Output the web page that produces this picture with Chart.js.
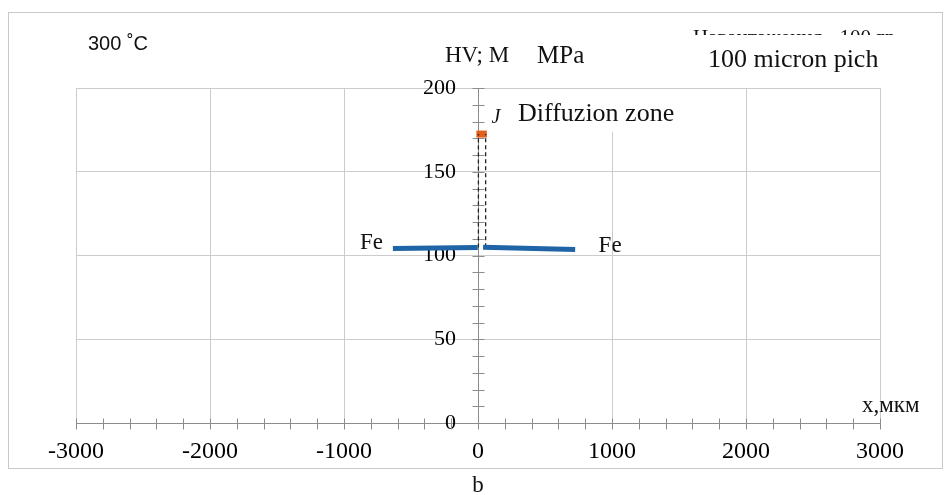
<!DOCTYPE html>
<html>
<head>
<meta charset="utf-8">
<script src="https://cdn.jsdelivr.net/npm/chart.js@4.4.1/dist/chart.umd.min.js"></script>
<style>
  html, body { margin: 0; padding: 0; background: #fff; }
  canvas { display: block; }
</style>
</head>
<body>
<canvas id="c" width="944" height="495"></canvas>
<script>
// Axis ranges and tick steps
const xRange = [-3000, 3000];
const xMajorStep = 1000;
const xMinorStep = 200;
const yRange = [0, 200];
const yMajorStep = 50;
const yMinorStep = 10;

// Microhardness profile, Fe on both sides of the joint (x, мкм ; HV, MPa)
const feLeftX = [-635, -2];
const feLeftY = [104.2, 104.8];
const feRightX = [38, 725];
const feRightY = [104.9, 103.6];

// Diffusion zone hardness and its drop lines
const zoneX = [-12, 66];
const zoneY = [172.5, 172.5];
const dropLeftX = [3, 3];
const dropLeftY = [104.8, 172.5];
const dropRightX = [57, 57];
const dropRightY = [104.9, 172.5];

const pts = (xs, ys) => xs.map((v, i) => ({ x: v, y: ys[i] }));

const AXIS = '#8c8c8c';
const GRID = '#cccccc';
const SERIF = '"Liberation Serif", "Times New Roman", serif';

// Short tick marks that cross each axis line
const crossTicks = {
  id: 'crossTicks',
  beforeDatasetsDraw(chart) {
    const { ctx } = chart;
    const sx = chart.scales.x, sy = chart.scales.y;
    const x0 = Math.round(sx.getPixelForValue(0)) + 0.5;
    const y0 = Math.round(sy.getPixelForValue(0)) + 0.5;
    ctx.save();
    ctx.strokeStyle = AXIS;
    ctx.lineWidth = 1;
    ctx.beginPath();
    sx.ticks.forEach(t => {
      const px = Math.round(sx.getPixelForValue(t.value)) + 0.5;
      ctx.moveTo(px, y0 - 5); ctx.lineTo(px, y0 + 6);
    });
    sy.ticks.forEach(t => {
      const py = Math.round(sy.getPixelForValue(t.value)) + 0.5;
      ctx.moveTo(x0 - 6, py); ctx.lineTo(x0 + 6, py);
    });
    ctx.stroke();
    ctx.restore();
  }
};

// Captions, text boxes and frame
const notes = {
  id: 'notes',
  afterDraw(chart) {
    const c = chart.ctx;
    const sx = chart.scales.x, sy = chart.scales.y;
    c.save();
    c.strokeStyle = '#c8c8c8';
    c.lineWidth = 1;
    c.strokeRect(8.5, 12.5, 934, 456);

    c.fillStyle = '#111';
    c.textBaseline = 'middle';
    c.textAlign = 'left';
    c.font = '20px "Liberation Sans", sans-serif';
    c.fillText('300 ˚C', 88, 44);

    c.textBaseline = 'alphabetic';
    c.font = '23px ' + SERIF;
    c.fillText('HV; M', 445, 62);
    c.font = '25px ' + SERIF;
    c.fillText('MPa', 537, 63);

    c.font = '21px ' + SERIF;
    c.fillText('Навантаження - 100 гр', 693, 44);
    c.fillStyle = '#fff';
    c.fillRect(688, 35, 250, 51);
    c.fillStyle = '#111';
    c.font = '26px ' + SERIF;
    c.fillText('100 micron pich', 708, 67);

    c.font = 'italic 20px ' + SERIF;
    c.fillText('J', sx.getPixelForValue(100), sy.getPixelForValue(179));
    c.fillStyle = '#fff';
    c.fillRect(503, 89, 187, 43);
    c.fillStyle = '#111';
    c.font = '26px ' + SERIF;
    c.fillText('Diffuzion zone', 518, 121);

    c.font = '23px ' + SERIF;
    c.fillText('Fe', sx.getPixelForValue(-880), sy.getPixelForValue(104.5) + 1);
    c.fillText('Fe', sx.getPixelForValue(900), sy.getPixelForValue(104.5) + 4);

    c.font = '23px ' + SERIF;
    c.fillText('x,мкм', 862, 412);

    c.textAlign = 'center';
    c.font = '23px ' + SERIF;
    c.fillText('b', 478, 492);
    c.restore();
  }
};

new Chart(document.getElementById('c'), {
  type: 'scatter',
  data: {
    datasets: [
      { data: pts(feLeftX, feLeftY), showLine: true, borderColor: '#1e64a6', borderWidth: 5, pointRadius: 0 },
      { data: pts(feRightX, feRightY), showLine: true, borderColor: '#1e64a6', borderWidth: 5, pointRadius: 0 },
      { data: pts(dropLeftX, dropLeftY), showLine: true, borderColor: '#222', borderWidth: 1.3, borderDash: [4, 3], pointRadius: 0 },
      { data: pts(dropRightX, dropRightY), showLine: true, borderColor: '#222', borderWidth: 1.3, borderDash: [4, 3], pointRadius: 0 },
      { data: pts(zoneX, zoneY), showLine: true, borderColor: '#e2601c', borderWidth: 7, pointRadius: 0 }
    ]
  },
  options: {
    responsive: false,
    animation: false,
    events: [],
    layout: { padding: { left: 76, right: 64, top: 88, bottom: 72 } },
    plugins: { legend: { display: false }, tooltip: { enabled: false } },
    scales: {
      x: {
        type: 'linear',
        position: { y: 0 },
        min: xRange[0], max: xRange[1],
        afterFit: s => { s.height = 0; },
        grid: {
          drawTicks: false,
          color: ctx => (ctx.tick && ctx.tick.value % xMajorStep === 0) ? GRID : 'rgba(0,0,0,0)'
        },
        border: { color: AXIS, width: 1 },
        ticks: {
          stepSize: xMinorStep,
          autoSkip: false,
          maxRotation: 0, minRotation: 0,
          padding: 14,
          color: '#000',
          font: { family: SERIF, size: 24 },
          callback: v => (v % xMajorStep === 0 ? String(v) : '')
        }
      },
      y: {
        type: 'linear',
        position: { x: 0 },
        min: yRange[0], max: yRange[1],
        afterFit: s => { s.width = 0; },
        grid: {
          drawTicks: false,
          color: ctx => (ctx.tick && ctx.tick.value % yMajorStep === 0) ? GRID : 'rgba(0,0,0,0)'
        },
        border: { color: AXIS, width: 1 },
        ticks: {
          stepSize: yMinorStep,
          autoSkip: false,
          padding: 0,
          color: '#000',
          font: { family: SERIF, size: 22 },
          // em space keeps the label clear of the axis line
          callback: v => (v % yMajorStep === 0 ? String(v) + '\u2003' : '')
        }
      }
    }
  },
  plugins: [crossTicks, notes]
});
</script>
</body>
</html>
